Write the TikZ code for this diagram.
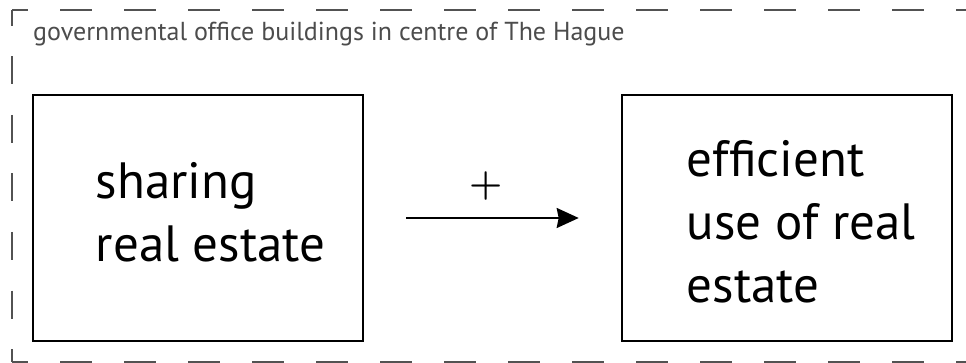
\documentclass[tikz,border=0pt]{standalone}
\usepackage{fontspec}
\setmainfont{PT Sans}
\newfontfamily\plusfont{Latin Modern Roman}
\usetikzlibrary{positioning,arrows.meta}

\begin{document}
\begin{tikzpicture}[x=1pt,y=-1pt,
    box/.style={draw, line width=2.6pt, minimum width=330pt, minimum height=246pt, inner sep=0pt},
    boxtext/.style={font=\fontsize{51}{63}\selectfont, align=left, inner sep=0pt},
    frame/.style={draw=black!68, line width=2pt, dash pattern=on 32pt off 32pt},
    arrow/.style={line width=2pt, -{Stealth[length=22pt,width=20pt,inset=2pt]}, shorten <=42pt, shorten >=42pt}]

    \useasboundingbox (0,0) rectangle (966,363);
    \clip (0,0) rectangle (966,363);

    % dashed frame around the whole area
    \draw[frame, dash phase=16pt] (12,10) -- (1000,10);
    \draw[frame, dash phase=16pt] (12,362) -- (1000,362);
    \draw[frame, dash pattern=on 28pt off 30.5pt, dash phase=12pt] (12,10) -- (12,362);
    \node[anchor=base west, inner sep=0pt, text=black!70, font=\fontsize{26}{30}\selectfont] (area) at (33,41) {governmental office buildings in centre of The Hague};

    % the two boxes
    \node[box] (share) at (198,218) {};
    \node[box] (use) at (787,218) {};
    \node[boxtext, right=64pt of share.west, yshift=6pt] (sharetext) {sharing\\real estate};
    \node[boxtext, right=66pt of use.west, yshift=-4pt] (usetext) {efficient\\use of real\\estate};

    \draw[arrow] (share) -- node[above=17pt, xshift=-6pt, inner sep=0pt, font=\plusfont\bfseries\fontsize{38}{48}\selectfont] (plus) {+} (use);

\end{tikzpicture}
\end{document}
